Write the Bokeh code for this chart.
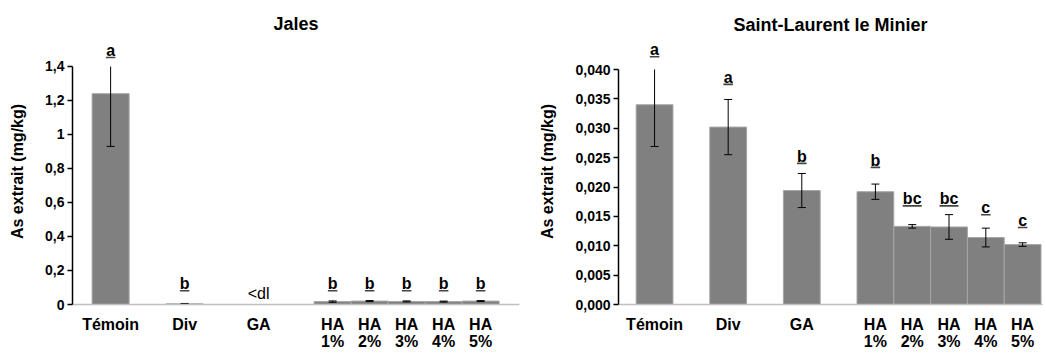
from bokeh.plotting import figure
from bokeh.layouts import row
from bokeh.models import FixedTicker, Range1d
from bokeh.core.properties import value
from bokeh.embed import file_html
from bokeh.resources import INLINE

# ---------------- data ----------------
categories = ["Témoin", "Div", "GA", "HA\n1%", "HA\n2%", "HA\n3%", "HA\n4%", "HA\n5%"]
positions = [0, 2, 4, 6, 7, 8, 9, 10]

jales_values = [1.24, 0.004, None, 0.017, 0.020, 0.018, 0.017, 0.020]
jales_errors = [0.31, 0.002, None, 0.004, 0.003, 0.003, 0.003, 0.003]
jales_letters = ["a", "b", "<dl", "b", "b", "b", "b", "b"]
jales_letter_y = [1.494, 0.122, 0.064, 0.122, 0.122, 0.122, 0.122, 0.122]
jales_ticks = [0, 0.2, 0.4, 0.6, 0.8, 1.0, 1.2, 1.4]
jales_tick_labels = ["0", "0,2", "0,4", "0,6", "0,8", "1", "1,2", "1,4"]

slm_values = [0.0340, 0.0302, 0.0194, 0.0192, 0.0133, 0.0132, 0.0114, 0.0102]
slm_errors = [0.0071, 0.0047, 0.0029, 0.0013, 0.0003, 0.0021, 0.0016, 0.0003]
slm_letters = ["a", "a", "b", "b", "bc", "bc", "c", "c"]
slm_letter_y = [0.04336, 0.03866, 0.02521, 0.02454, 0.01798, 0.01798, 0.01647, 0.01429]
slm_ticks = [0, 0.005, 0.010, 0.015, 0.020, 0.025, 0.030, 0.035, 0.040]
slm_tick_labels = ["0,000", "0,005", "0,010", "0,015", "0,020", "0,025", "0,030", "0,035", "0,040"]

FONT = "Liberation Sans"
BAR = "#808080"
FRAME_H = 266
BORDER_TOP = 38
BORDER_BOTTOM = 42


def make_chart(title, title_standoff, vals, errs, letters, letter_y, ticks, tick_labels,
               y_end, x_start, x_end, frame_w, border_left, border_right):
    p = figure(frame_width=frame_w, frame_height=FRAME_H, output_backend="svg", toolbar_location=None,
               x_range=Range1d(x_start, x_end), y_range=Range1d(0, y_end),
               min_border_left=border_left, min_border_right=border_right,
               min_border_top=BORDER_TOP, min_border_bottom=BORDER_BOTTOM)
    p.outline_line_color = None
    p.grid.visible = False
    p.background_fill_color = "white"

    p.title.text = title
    p.title.align = "center"
    p.title.text_font = FONT
    p.title.text_font_style = "bold"
    p.title.text_font_size = "18px"
    p.title.text_color = "black"
    p.title.standoff = title_standoff

    px = y_end / FRAME_H  # data units per pixel

    ymax = ticks[-1]
    xs, tops = [], []
    for x, v in zip(positions, vals):
        if v is not None:
            xs.append(x)
            tops.append(v)
    p.vbar(x=xs, top=tops, width=1.0, bottom=0, fill_color=BAR, line_color="#a6a6a6", line_width=1)

    # error bars
    sx, sy0, sy1, cx, cy = [], [], [], [], []
    for x, v, e in zip(positions, vals, errs):
        if v is None:
            continue
        lo = v - e
        hi = v + e
        sx.append(x)
        sy0.append(lo)
        sy1.append(min(hi, ymax))
        cx.append(x)
        cy.append(lo)
        if hi <= ymax:
            cx.append(x)
            cy.append(hi)
    p.segment(x0=sx, y0=sy0, x1=sx, y1=sy1, line_color="black", line_width=1)
    p.scatter(x=cx, y=cy, marker="dash", size=8, line_color="black", line_width=1)

    # significance letters
    ul_x, ul_y, ul_t = [], [], []
    pl_x, pl_y, pl_t = [], [], []
    for x, t, y in zip(positions, letters, letter_y):
        if t.startswith("<"):
            pl_x.append(x); pl_y.append(y); pl_t.append(t)
        else:
            ul_x.append(x); ul_y.append(y); ul_t.append(t)
    p.text(x=ul_x, y=ul_y, text=ul_t, text_font=value(FONT), text_font_style="bold",
           text_font_size="16px", text_align="center", text_baseline="middle", text_color="black")
    # underline under letters
    p.rect(x=ul_x, y=[y - 7 * px for y in ul_y], width=[9.5 * len(t) for t in ul_t],
           height=1.6, width_units="screen", height_units="screen",
           fill_color="#444444", line_color=None)
    p.text(x=pl_x, y=pl_y, text=pl_t, text_font=value(FONT), text_font_style="normal",
           text_font_size="16px", text_align="center", text_baseline="middle", text_color="black")

    # axes
    yax = p.yaxis[0]
    yax.ticker = FixedTicker(ticks=ticks)
    yax.major_label_overrides = {t: l for t, l in zip(ticks, tick_labels)}
    yax.bounds = (0, ymax)
    yax.axis_line_color = "black"
    yax.axis_line_width = 1.5
    yax.major_tick_line_color = "black"
    yax.major_tick_line_width = 1.5
    yax.major_tick_out = 5
    yax.major_tick_in = 0
    yax.minor_tick_line_color = None
    yax.major_label_text_font = FONT
    yax.major_label_text_font_style = "bold"
    yax.major_label_text_font_size = "14px"
    yax.major_label_text_color = "black"
    yax.major_label_standoff = 3
    yax.axis_label = "As extrait (mg/kg)"
    yax.axis_label_text_font = FONT
    yax.axis_label_text_font_style = "bold"
    yax.axis_label_text_font_size = "16px"
    yax.axis_label_text_color = "black"
    yax.axis_label_standoff = 16

    xax = p.xaxis[0]
    xax.ticker = FixedTicker(ticks=positions)
    xax.major_label_overrides = {x: c for x, c in zip(positions, categories)}
    xax.axis_line_color = "#c0c0c0"
    xax.axis_line_width = 1.5
    xax.major_tick_line_color = None
    xax.minor_tick_line_color = None
    xax.major_label_text_font = FONT
    xax.major_label_text_font_style = "bold"
    xax.major_label_text_font_size = "16px"
    xax.major_label_text_color = "black"
    xax.major_label_standoff = 5
    xax.major_label_text_line_height = 1.0
    return p


p1 = make_chart("Jales", 9, jales_values, jales_errors, jales_letters, jales_letter_y,
                jales_ticks, jales_tick_labels, 1.5647, -1.03, 11.05, 447, 72, 4)
p2 = make_chart("Saint-Laurent le Minier", 7, slm_values, slm_errors, slm_letters, slm_letter_y,
                slm_ticks, slm_tick_labels, 0.04528, -0.98, 10.54, 424, 95, 2)

layout = row(p1, p2)
open("out.html", "w").write(file_html(layout, INLINE))
